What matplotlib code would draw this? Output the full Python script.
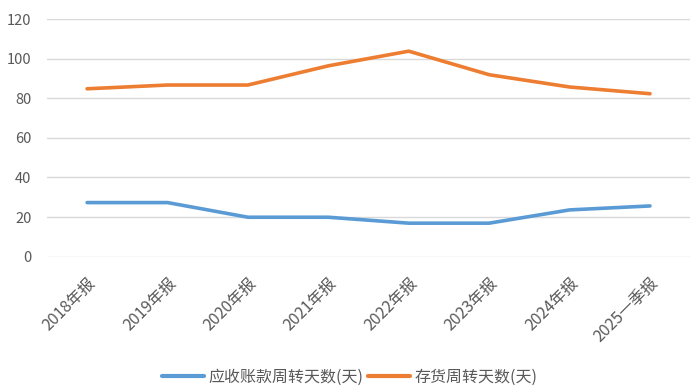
import matplotlib
matplotlib.use("Agg")
import matplotlib.pyplot as plt

plt.rcParams['font.family'] = ['Noto Sans CJK SC', 'DejaVu Sans']

categories = ["2018年报", "2019年报", "2020年报", "2021年报", "2022年报", "2023年报", "2024年报", "2025一季报"]
receivable_days = [27.3, 27.3, 19.9, 19.9, 16.9, 16.9, 23.6, 25.6]
inventory_days = [84.8, 86.7, 86.7, 96.4, 103.8, 91.9, 85.7, 82.3]
series_names = ["应收账款周转天数(天)", "存货周转天数(天)"]
yticks = [0, 20, 40, 60, 80, 100, 120]

text_color = "#595959"
fig = plt.figure(figsize=(7, 3.9), dpi=100)
ax = fig.add_axes([0.067, 0.342, 0.919, 0.609])

x = list(range(len(categories)))
ax.plot(x, receivable_days, color="#5B9BD5", lw=2.6, solid_capstyle="round", label=series_names[0], zorder=3)
ax.plot(x, inventory_days, color="#ED7D31", lw=2.6, solid_capstyle="round", label=series_names[1], zorder=3)

ax.set_xlim(-0.5, len(categories) - 0.5)
ax.set_ylim(0, 120)
ax.set_yticks(yticks)
ax.set_yticklabels([str(v) for v in yticks], color=text_color, fontsize=10.5)
ax.grid(axis="y", color="#D9D9D9", lw=1)
ax.set_axisbelow(True)
for s in ax.spines.values():
    s.set_visible(False)
ax.tick_params(axis="both", length=0)
ax.tick_params(axis="y", pad=11)
ax.set_xticks(x)
ax.set_xticklabels(categories, rotation=45, ha="right", va="top",
                   rotation_mode="anchor", color=text_color, fontsize=11.5)
ax.tick_params(axis="x", pad=13)

leg = fig.legend(loc="center", bbox_to_anchor=(0.5, 0.033), ncol=2, frameon=False,
                 fontsize=11.5, handlelength=2.6, handletextpad=0.3, columnspacing=0.3,
                 labelcolor=text_color)
for line in leg.get_lines():
    line.set_linewidth(3)

fig.savefig("out.png", dpi=100)
